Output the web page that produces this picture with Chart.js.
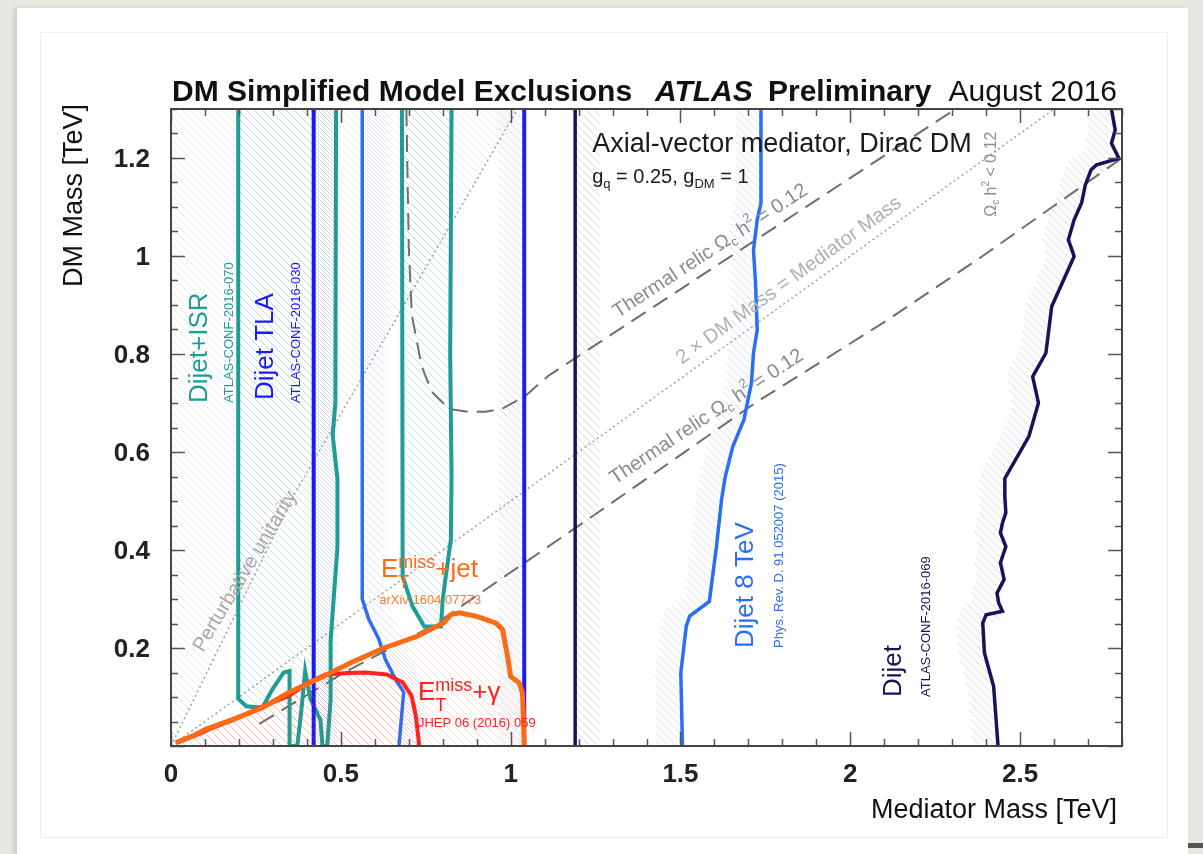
<!DOCTYPE html>
<html>
<head>
<meta charset="utf-8">
<script src="https://cdn.jsdelivr.net/npm/chart.js@4.4.1/dist/chart.umd.min.js"></script>
<style>
html, body { margin: 0; padding: 0; }
body { width: 1203px; height: 854px; background: #e8e6e1; position: relative; overflow: hidden; }
#card { position: absolute; left: 17px; top: 8px; width: 1171px; height: 846px; background: #fff; box-shadow: -3px 0 4px rgba(0,0,0,0.12); }
#frame { position: absolute; left: 40px; top: 32px; width: 1126px; height: 804px; border: 1px solid #eeeeee; }
#mark { position: absolute; left: 1188px; top: 843px; width: 15px; height: 5px; background: #555; }
#chart { position: absolute; left: 0; top: 0; }
</style>
</head>
<body>
<div id="card"></div>
<div id="frame"></div>
<div id="mark"></div>
<canvas id="chart" width="1203" height="854"></canvas>
<script>
// axis ticks
var xTicks = [0, 0.5, 1, 1.5, 2, 2.5];
var xTickLabels = ["0", "0.5", "1", "1.5", "2", "2.5"];
var yTicks = [0.2, 0.4, 0.6, 0.8, 1, 1.2];
var yTickLabels = ["0.2", "0.4", "0.6", "0.8", "1", "1.2"];

// contours [mediator mass, DM mass] in TeV
var metJet = [[0.015,0.007],[0.063,0.02],[0.102,0.034],[0.181,0.054],[0.269,0.078],[0.347,0.109],[0.451,0.143],[0.529,0.17],[0.627,0.2],[0.725,0.224],[0.804,0.252],[0.824,0.268],[0.849,0.272],[0.898,0.265],[0.956,0.251],[0.976,0.238],[0.991,0.183],[1.0,0.142],[1.025,0.129],[1.035,0.108],[1.04,0]];
var metGamma = [[0.015,0.007],[0.082,0.024],[0.111,0.034],[0.18,0.052],[0.259,0.078],[0.347,0.102],[0.406,0.13],[0.455,0.146],[0.52,0.149],[0.575,0.15],[0.635,0.146],[0.682,0.13],[0.708,0.103],[0.721,0.061],[0.731,0]];
var tlaLeft = [[0.42,0],[0.42,1.3]];
var tlaRight = [[1.04,0],[1.04,1.3]];
var isrContour = [[0.198,1.3],[0.198,0.096],[0.222,0.081],[0.269,0.078],[0.298,0.115],[0.332,0.15],[0.349,0.153],[0.349,0],[0.372,0],[0.385,0.081],[0.395,0.153],[0.41,0.097],[0.44,0.053],[0.446,0],[0.46,0],[0.47,0.095],[0.47,0.215],[0.49,0.405],[0.49,0.545],[0.476,0.635],[0.484,0.70],[0.486,1.3]];
var isrBand = [[0.68,1.3],[0.682,0.346],[0.711,0.285],[0.746,0.244],[0.795,0.244],[0.80,0.299],[0.809,0.346],[0.824,0.421],[0.826,0.55],[0.822,0.8],[0.826,1.3]];
var dijet8Left = [[0.563,1.3],[0.563,0.545],[0.563,0.30],[0.582,0.259],[0.612,0.218],[0.631,0.177],[0.661,0.136],[0.685,0.11],[0.68,0.069],[0.671,0]];
var dijet8Right = [[1.506,0],[1.501,0.149],[1.517,0.244],[1.527,0.265],[1.585,0.295],[1.606,0.407],[1.621,0.503],[1.632,0.55],[1.654,0.611],[1.687,0.666],[1.709,0.741],[1.715,0.802],[1.726,0.849],[1.721,0.945],[1.715,1.012],[1.726,1.074],[1.737,1.108],[1.737,1.3]];
var dijetLeft = [[1.19,0],[1.19,1.3]];
var dijetRight = [[2.435,0],[2.422,0.122],[2.395,0.19],[2.39,0.251],[2.40,0.268],[2.448,0.275],[2.437,0.292],[2.432,0.312],[2.453,0.34],[2.442,0.374],[2.458,0.407],[2.442,0.435],[2.448,0.455],[2.458,0.476],[2.455,0.509],[2.455,0.546],[2.526,0.632],[2.554,0.70],[2.537,0.754],[2.576,0.802],[2.593,0.897],[2.659,0.999],[2.653,1.012],[2.642,1.033],[2.659,1.074],[2.681,1.108],[2.692,1.145],[2.709,1.176],[2.725,1.186],[2.791,1.199],[2.769,1.23],[2.78,1.257],[2.769,1.3]];
var relicUpper = [[0.693,1.3],[0.70,1.02],[0.709,0.88],[0.738,0.775],[0.768,0.723],[0.818,0.688],[0.876,0.682],[0.926,0.682],[0.974,0.688],[1.044,0.715],[1.112,0.756],[1.5,0.932],[1.9,1.114],[2.31,1.3]];
var relicLower = [[0.26,0.045],[0.51,0.15],[0.77,0.245],[1.26,0.478],[1.72,0.70],[2.10,0.865],[2.39,1.0],[2.8,1.2]];
var halfLine = [[0,0],[2.6,1.3]];
var unitarity = [[0,0],[0.36,0.51],[0.82,1.06],[1.02,1.3]];

var FONT = '"Liberation Sans", Arial, sans-serif';
function f(size, weight, style) {
    return (style || "normal") + " " + (weight || "normal") + " " + size + "px " + FONT;
}

var hatchCache = {};
function makeHatch(color) {
    if (hatchCache[color]) return hatchCache[color];
    var c = document.createElement("canvas");
    c.width = 8; c.height = 8;
    var g = c.getContext("2d");
    g.strokeStyle = color;
    g.lineWidth = 1;
    g.beginPath();
    g.moveTo(0, 0); g.lineTo(8, 8);
    g.moveTo(-1, 7); g.lineTo(1, 9);
    g.moveTo(7, -1); g.lineTo(9, 1);
    g.stroke();
    hatchCache[color] = g.createPattern(c, "repeat");
    return hatchCache[color];
}

function curve(label, pts, color, width, extra) {
    var ds = {
        label: label,
        data: pts.map(function(p) { return {x: p[0], y: p[1]}; }),
        borderColor: color,
        borderWidth: width,
        pointRadius: 0,
        pointHoverRadius: 0,
        showLine: true,
        fill: false,
        tension: 0,
        clip: 0
    };
    return Object.assign(ds, extra || {});
}

var teal = "#1f9d95", blue = "#1a1af5", lightBlue = "#2a6ef5", navy = "#14145c", orange = "#ff6a14", red = "#ff2020";

var datasets = [
    curve("MET+jet", metJet, orange, 5, {fill: {value: 0}, backgroundColor: makeHatch("rgba(255,120,60,0.22)")}),
    curve("MET+gamma", metGamma, red, 4, {fill: {value: 0}, backgroundColor: makeHatch("rgba(255,40,40,0.2)")}),
    curve("TLA low", tlaLeft, blue, 4, {band: {dx: 12, dy: 0, w: 24, color: "rgba(40,40,255,0.2)"}}),
    curve("TLA high", tlaRight, blue, 4, {band: {dx: -13, dy: 0, w: 26, color: "rgba(40,40,255,0.2)"}}),
    curve("Dijet+ISR", isrContour, teal, 4, {fill: "shape", backgroundColor: makeHatch("rgba(30,160,150,0.22)")}),
    curve("Dijet+ISR band", isrBand, teal, 4, {fill: "shape", backgroundColor: makeHatch("rgba(30,160,150,0.22)")}),
    curve("Dijet 8TeV low", dijet8Left, lightBlue, 3.5, {band: {dx: 12, dy: 0, w: 24, color: "rgba(40,110,245,0.2)"}}),
    curve("Dijet 8TeV high", dijet8Right, lightBlue, 3.5, {band: {dx: -13, dy: 0, w: 26, color: "rgba(40,110,245,0.2)"}}),
    curve("Dijet low", dijetLeft, navy, 3.5, {band: {dx: 12, dy: 0, w: 24, color: "rgba(40,40,130,0.18)"}}),
    curve("Dijet high", dijetRight, navy, 3.5, {band: {dx: -13, dy: 0, w: 26, color: "rgba(40,40,130,0.18)"}}),
    curve("Relic upper", relicUpper, "#6e6e6e", 2, {borderDash: [17, 9]}),
    curve("Relic lower", relicLower, "#6e6e6e", 2, {borderDash: [17, 9]}),
    curve("2 x DM", halfLine, "#a0a0a0", 1.5, {borderDash: [2, 3]}),
    curve("Unitarity", unitarity, "#a0a0a0", 1.5, {borderDash: [2, 3], fill: "end", backgroundColor: makeHatch("rgba(120,120,120,0.16)")})
];

// hatched strips along the excluded side of a contour
var bandPlugin = {
    id: "bands",
    beforeDatasetsDraw: function(chart) {
        var ctx = chart.ctx, ca = chart.chartArea;
        chart.data.datasets.forEach(function(ds, i) {
            if (!ds.band) return;
            var pts = chart.getDatasetMeta(i).data;
            ctx.save();
            ctx.beginPath();
            ctx.rect(ca.left, ca.top, ca.right - ca.left, ca.bottom - ca.top);
            ctx.clip();
            ctx.translate(ds.band.dx, ds.band.dy);
            ctx.lineWidth = ds.band.w;
            ctx.lineJoin = "round";
            ctx.strokeStyle = makeHatch(ds.band.color);
            ctx.beginPath();
            pts.forEach(function(p, k) {
                if (k === 0) ctx.moveTo(p.x, p.y); else ctx.lineTo(p.x, p.y);
            });
            ctx.stroke();
            ctx.restore();
        });
    }
};

function drawText(ctx, parts, x, y, deg, align) {
    ctx.save();
    ctx.translate(x, y);
    ctx.rotate((deg || 0) * Math.PI / 180);
    ctx.textBaseline = "alphabetic";
    ctx.textAlign = "left";
    var total = 0;
    parts.forEach(function(p) {
        ctx.font = p.font;
        if (p.adv !== false) total += ctx.measureText(p.t).width;
    });
    var cx = align === "right" ? -total : (align === "center" ? -total / 2 : 0);
    parts.forEach(function(p) {
        ctx.font = p.font;
        ctx.fillStyle = p.color;
        ctx.fillText(p.t, cx, p.dy || 0);
        if (p.adv !== false) cx += ctx.measureText(p.t).width;
    });
    ctx.restore();
}

function lineAngle(xs, ys, a, b) {
    var dx = xs.getPixelForValue(b[0]) - xs.getPixelForValue(a[0]);
    var dy = ys.getPixelForValue(b[1]) - ys.getPixelForValue(a[1]);
    return Math.atan2(dy, dx) * 180 / Math.PI;
}

function relicParts(color) {
    return [
        {t: "Thermal relic \u03A9", font: f(20), color: color},
        {t: "c", font: f(13), color: color, dy: 4},
        {t: " h", font: f(20), color: color},
        {t: "2", font: f(13), color: color, dy: -9},
        {t: " = 0.12", font: f(20), color: color}
    ];
}

function emissParts(tail, size, color) {
    return [
        {t: "E", font: f(size), color: color},
        {t: "T", font: f(18), color: color, dy: 11, adv: false},
        {t: "miss", font: f(18), color: color, dy: -9},
        {t: tail, font: f(size), color: color}
    ];
}

var decoPlugin = {
    id: "deco",
    afterDatasetsDraw: function(chart) {
        var ctx = chart.ctx, ca = chart.chartArea;
        var xs = chart.scales.x, ys = chart.scales.y;
        var X = function(v) { return xs.getPixelForValue(v); };
        var Y = function(v) { return ys.getPixelForValue(v); };

        // frame and inward ticks on all sides
        ctx.save();
        ctx.strokeStyle = "#555";
        ctx.lineWidth = 1.5;
        ctx.beginPath();
        for (var mx = 0; mx <= 2.8001; mx += 0.1) {
            var major = Math.abs(mx / 0.5 - Math.round(mx / 0.5)) < 0.001;
            var len = major ? 14 : 7;
            var px = Math.round(X(mx)) + 0.5;
            ctx.moveTo(px, ca.bottom); ctx.lineTo(px, ca.bottom - len);
            ctx.moveTo(px, ca.top); ctx.lineTo(px, ca.top + len);
        }
        for (var my = 0; my <= 1.3001; my += 0.05) {
            var majorY = Math.abs(my / 0.2 - Math.round(my / 0.2)) < 0.001;
            var leny = majorY ? 14 : 7;
            var py = Math.round(Y(my)) + 0.5;
            ctx.moveTo(ca.left, py); ctx.lineTo(ca.left + leny, py);
            ctx.moveTo(ca.right, py); ctx.lineTo(ca.right - leny, py);
        }
        ctx.stroke();
        ctx.strokeStyle = "#444";
        ctx.lineWidth = 2;
        ctx.strokeRect(ca.left, ca.top, ca.right - ca.left, ca.bottom - ca.top);
        ctx.restore();

        // tick labels
        xTicks.forEach(function(v, i) {
            drawText(ctx, [{t: xTickLabels[i], font: f(26, "bold"), color: "#222"}], X(v), ca.bottom + 36, 0, "center");
        });
        yTicks.forEach(function(v, i) {
            drawText(ctx, [{t: yTickLabels[i], font: f(26, "bold"), color: "#222"}], ca.left - 21, Y(v) + 9, 0, "right");
        });

        // axis titles
        drawText(ctx, [{t: "Mediator Mass [TeV]", font: f(27), color: "#111"}], ca.right - 5, ca.bottom + 72, 0, "right");
        drawText(ctx, [{t: "DM Mass [TeV]", font: f(27), color: "#111"}], 82, ca.top - 5, -90, "right");

        // header
        drawText(ctx, [{t: "DM Simplified Model Exclusions", font: f(30, "bold"), color: "#111"}], ca.left + 1, ca.top - 8, 0, "left");
        drawText(ctx, [{t: "ATLAS", font: f(30, "bold", "italic"), color: "#111"}], ca.left + 484, ca.top - 8, 0, "left");
        drawText(ctx, [{t: "Preliminary", font: f(30, "bold"), color: "#111"}], ca.left + 597, ca.top - 8, 0, "left");
        drawText(ctx, [{t: "August 2016", font: f(30), color: "#111"}], ca.right - 5, ca.top - 8, 0, "right");

        // model description
        drawText(ctx, [{t: "Axial-vector mediator, Dirac DM", font: f(27), color: "#1a1a1a"}], X(1.24), Y(1.212), 0, "left");
        drawText(ctx, [
            {t: "g", font: f(20), color: "#1a1a1a"},
            {t: "q", font: f(13), color: "#1a1a1a", dy: 5},
            {t: " = 0.25, g", font: f(20), color: "#1a1a1a"},
            {t: "DM", font: f(13), color: "#1a1a1a", dy: 5},
            {t: " = 1", font: f(20), color: "#1a1a1a"}
        ], X(1.24), Y(1.149), 0, "left");

        // reference lines
        drawText(ctx, relicParts("#8c8c8c"), X(1.316), Y(0.873), lineAngle(xs, ys, relicUpper[10], relicUpper[13]), "left");
        drawText(ctx, relicParts("#8c8c8c"), X(1.307), Y(0.533), lineAngle(xs, ys, relicLower[3], relicLower[6]), "left");
        drawText(ctx, [{t: "2 \u00D7 DM Mass = Mediator Mass", font: f(20), color: "#b0b0b0"}], X(1.504), Y(0.778), lineAngle(xs, ys, halfLine[0], halfLine[1]), "left");
        drawText(ctx, [{t: "Perturbative unitarity", font: f(20), color: "#a8a8a8"}], X(0.094), Y(0.19), -59, "left");
        drawText(ctx, [
            {t: "\u03A9", font: f(16), color: "#8c8c8c"},
            {t: "c", font: f(10), color: "#8c8c8c", dy: 3},
            {t: " h", font: f(16), color: "#8c8c8c"},
            {t: "2", font: f(10), color: "#8c8c8c", dy: -7},
            {t: " < 0.12", font: f(16), color: "#8c8c8c"}
        ], X(2.429), Y(1.08), -90, "left");

        // analysis labels
        drawText(ctx, [{t: "Dijet+ISR", font: f(26), color: teal}], X(0.106), Y(0.70), -90, "left");
        drawText(ctx, [{t: "ATLAS-CONF-2016-070", font: f(13), color: teal}], X(0.183), Y(0.70), -90, "left");
        drawText(ctx, [{t: "Dijet TLA", font: f(26), color: blue}], X(0.30), Y(0.706), -90, "left");
        drawText(ctx, [{t: "ATLAS-CONF-2016-030", font: f(13), color: blue}], X(0.38), Y(0.70), -90, "left");
        drawText(ctx, [{t: "Dijet 8 TeV", font: f(26), color: lightBlue}], X(1.714), Y(0.20), -90, "left");
        drawText(ctx, [{t: "Phys. Rev. D. 91 052007 (2015)", font: f(13), color: lightBlue}], X(1.802), Y(0.20), -90, "left");
        drawText(ctx, [{t: "Dijet", font: f(26), color: navy}], X(2.15), Y(0.10), -90, "left");
        drawText(ctx, [{t: "ATLAS-CONF-2016-069", font: f(13), color: navy}], X(2.235), Y(0.10), -90, "left");

        drawText(ctx, emissParts("+jet", 26, orange), X(0.618), Y(0.345), 0, "left");
        drawText(ctx, [{t: "arXiv:1604.07773", font: f(13), color: "#ff7a30"}], X(0.613), Y(0.29), 0, "left");
        drawText(ctx, emissParts("+\u03B3", 26, red), X(0.727), Y(0.093), 0, "left");
        drawText(ctx, [{t: "JHEP 06 (2016) 059", font: f(13), color: red}], X(0.727), Y(0.039), 0, "left");
    }
};

new Chart(document.getElementById("chart").getContext("2d"), {
    type: "scatter",
    data: { datasets: datasets },
    options: {
        responsive: false,
        animation: false,
        devicePixelRatio: 1,
        events: [],
        layout: { padding: { left: 171, top: 109, right: 81, bottom: 108 } },
        plugins: {
            legend: { display: false },
            tooltip: { enabled: false },
            title: { display: false }
        },
        scales: {
            x: { type: "linear", min: 0, max: 2.8, display: false },
            y: { type: "linear", min: 0, max: 1.3, display: false }
        }
    },
    plugins: [bandPlugin, decoPlugin]
});
</script>
</body>
</html>
